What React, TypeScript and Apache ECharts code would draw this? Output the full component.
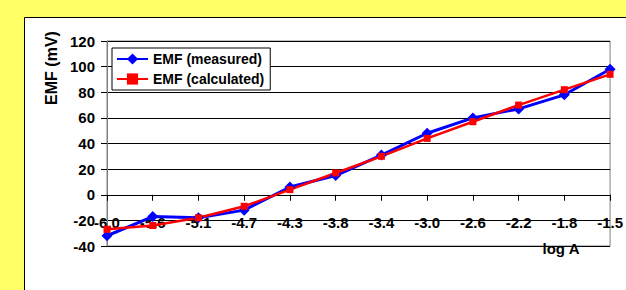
import React, { useEffect, useRef } from "react";
import * as echarts from "echarts";

const categories = ["-6.0", "-5.6", "-5.1", "-4.7", "-4.3", "-3.8", "-3.4", "-3.0", "-2.6", "-2.2", "-1.8", "-1.5"];
const measured = [-32, -17, -18, -12, 6, 15, 31, 48, 60, 67, 78, 98];
const calculated = [-27, -24, -18, -9, 4, 17, 30, 44, 57, 70, 82, 94];
const yTicks = { min: -40, max: 120, interval: 20 };

const FONT = "Arial, 'Liberation Sans', sans-serif";

export default function App() {
  const ref = useRef<HTMLDivElement>(null);
  useEffect(() => {
    if (!ref.current) return;
    const chart = echarts.init(ref.current, null, { renderer: "svg" });
    const gridTop = 41;
    const gridBottom = 44;
    const plotH = 290 - gridTop - gridBottom;
    const zeroOffset = -(plotH * (0 - yTicks.min)) / (yTicks.max - yTicks.min);
    chart.setOption({
      animation: false,
      backgroundColor: "#FFFF66",
      textStyle: { fontFamily: FONT },
      graphic: [
        {
          type: "rect",
          z: -100,
          silent: true,
          shape: { x: 24.5, y: 17.5, width: 700, height: 400 },
          style: { fill: "#ffffff", stroke: "#000000", lineWidth: 1 },
        },
        {
          type: "text",
          x: 51,
          y: 68,
          rotation: Math.PI / 2,
          style: {
            text: "EMF (mV)",
            font: `bold 16px ${FONT}`,
            fill: "#000",
            textAlign: "center",
            textVerticalAlign: "middle",
          },
        },
        {
          type: "text",
          x: 561,
          y: 248,
          style: {
            text: "log A",
            font: `bold 15px ${FONT}`,
            fill: "#000",
            textAlign: "center",
            textVerticalAlign: "middle",
          },
        },
      ],
      grid: {
        left: 107,
        top: gridTop,
        right: 9,
        bottom: gridBottom,
        show: true,
        borderColor: "#808080",
        borderWidth: 1,
        backgroundColor: "transparent",
      },
      legend: {
        orient: "vertical",
        left: 112,
        top: 48,
        padding: [4, 6, 4, 4],
        itemGap: 6,
        itemWidth: 31,
        itemHeight: 14,
        borderColor: "#000",
        borderWidth: 1,
        backgroundColor: "#fff",
        textStyle: { fontFamily: FONT, fontWeight: "bold", fontSize: 14, color: "#000" },
        data: ["EMF (measured)", "EMF (calculated)"],
      },
      xAxis: {
        type: "category",
        data: categories,
        boundaryGap: false,
        offset: zeroOffset,
        axisLine: { onZero: false, lineStyle: { color: "#000", width: 1 } },
        axisTick: { show: true, length: 6, lineStyle: { color: "#000" } },
        axisLabel: {
          interval: 0,
          margin: 20,
          fontFamily: FONT,
          fontWeight: "bold",
          fontSize: 15,
          color: "#000",
        },
        splitLine: { show: false },
      },
      yAxis: {
        type: "value",
        min: yTicks.min,
        max: yTicks.max,
        interval: yTicks.interval,
        axisLine: { show: true, lineStyle: { color: "#808080" } },
        axisTick: { show: true, length: 6, lineStyle: { color: "#000" } },
        axisLabel: {
          margin: 12,
          fontFamily: FONT,
          fontWeight: "bold",
          fontSize: 15,
          color: "#000",
        },
        splitLine: { show: true, lineStyle: { color: "#000", width: 1 } },
      },
      series: [
        {
          name: "EMF (measured)",
          type: "line",
          data: measured,
          symbol: "diamond",
          symbolSize: 11,
          lineStyle: { color: "#0000FF", width: 3 },
          itemStyle: { color: "#0000FF" },
        },
        {
          name: "EMF (calculated)",
          type: "line",
          data: calculated,
          symbol: "rect",
          symbolSize: 7,
          lineStyle: { color: "#FF0000", width: 2.5 },
          itemStyle: { color: "#FF0000" },
        },
      ],
    });
    return () => chart.dispose();
  }, []);
  return (
    <div
      ref={ref}
      style={{ position: "fixed", left: 0, top: 0, width: 626, height: 290 }}
    />
  );
}
